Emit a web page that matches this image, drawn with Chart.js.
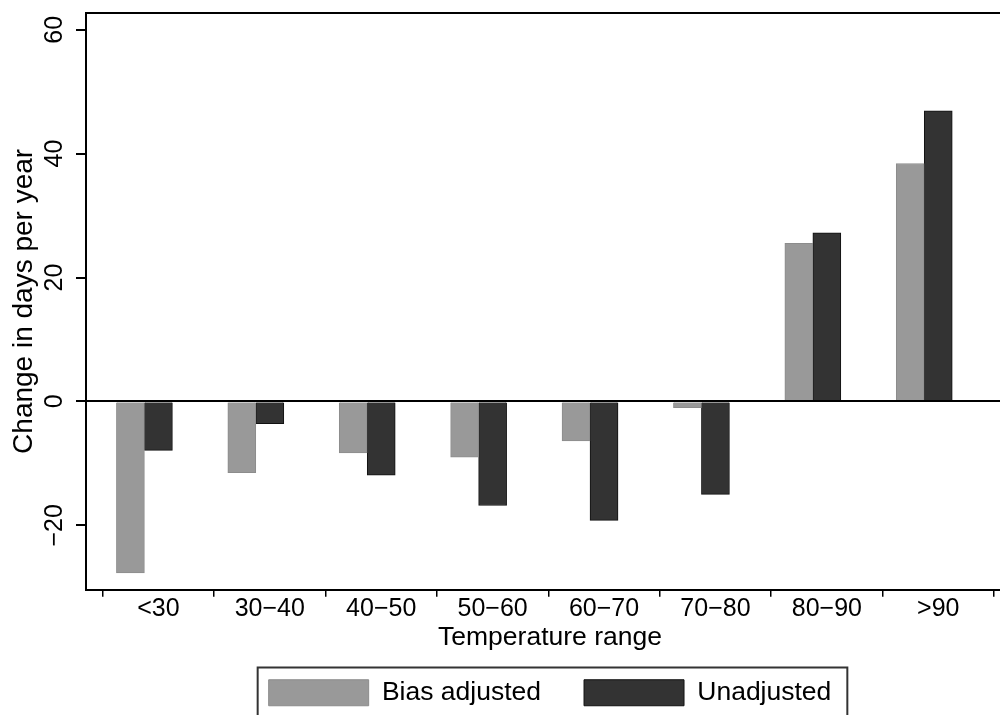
<!DOCTYPE html>
<html>
<head>
<meta charset="utf-8">
<script src="https://cdn.jsdelivr.net/npm/chart.js@4/dist/chart.umd.min.js"></script>
<style>
  html, body { margin: 0; padding: 0; overflow: hidden; background: #fff; width: 1000px; height: 715px; }
  #wrap { width: 1100px; height: 720px; }
</style>
</head>
<body>
<div id="wrap"><canvas id="chart" width="1100" height="720"></canvas></div>
<script>
// Change in days per year, by temperature range
const categories = ['<30', '30−40', '40−50', '50−60', '60−70', '70−80', '80−90', '>90'];
const biasAdjusted = [-27.7, -11.5, -8.3, -9.0, -6.4, -1.0, 25.5, 38.4];
const unadjusted = [-7.9, -3.6, -11.9, -16.8, -19.2, -15.0, 27.2, 46.9];
const yTicks = [-20, 0, 20, 40, 60];
const yRange = { min: -30.4, max: 62.7 };
const xRange = { min: -0.65, max: 7.68 };

const FONT = '"Liberation Sans", Arial, Helvetica, sans-serif';
const withMinus = v => (v < 0 ? '\u2212' + Math.abs(v) : String(v));

// tick marks sit on the boundaries between categories, labels at the centres
const xTickValues = [];
for (let i = 0; i <= categories.length * 2; i++) xTickValues.push(i / 2 - 0.5);

// frame around the legend entries
const legendFrame = {
  id: 'legendFrame',
  afterDraw(chart) {
    const lg = chart.legend;
    if (!lg || !lg.legendHitBoxes || !lg.legendHitBoxes.length) return;
    const boxes = lg.legendHitBoxes;
    const left = Math.min(...boxes.map(b => b.left)) - 11;
    const right = Math.max(...boxes.map(b => b.left + b.width)) + 16;
    const top = boxes[0].top - 12;
    const bottom = boxes[0].top + boxes[0].height + 12;
    const ctx = chart.ctx;
    ctx.save();
    ctx.strokeStyle = '#333';
    ctx.lineWidth = 2;
    ctx.strokeRect(left, top, right - left, bottom - top);
    ctx.restore();
  }
};

new Chart(document.getElementById('chart'), {
  type: 'bar',
  data: {
    labels: categories.map((_, i) => i),
    datasets: [
      { label: 'Bias adjusted', data: biasAdjusted, backgroundColor: '#999999', borderColor: '#8c8c8c', borderWidth: 1 },
      { label: 'Unadjusted', data: unadjusted, backgroundColor: '#333333', borderColor: '#111111', borderWidth: 1 },
      // empty third slot, leaves the gap to the right of each pair
      { label: '', data: categories.map(() => null), backgroundColor: 'rgba(0,0,0,0)' }
    ]
  },
  options: {
    responsive: false,
    animation: false,
    layout: { padding: { left: 0, right: 86, top: 13, bottom: 4 } },
    datasets: { bar: { barThickness: 28, borderSkipped: 'start' } },
    plugins: {
      legend: {
        position: 'bottom',
        fullSize: false,
        labels: {
          boxWidth: 100,
          boxHeight: 26,
          padding: 43,
          color: '#000',
          font: { family: FONT, size: 26.5 },
          filter: item => item.datasetIndex < 2
        }
      },
      tooltip: { enabled: false }
    },
    scales: {
      x: {
        type: 'linear',
        min: xRange.min,
        max: xRange.max,
        offset: false,
        afterBuildTicks: s => { s.ticks = xTickValues.map(v => ({ value: v })); },
        ticks: {
          autoSkip: false, maxRotation: 0, minRotation: 0, padding: 0, color: '#000',
          font: { family: FONT, size: 25, lineHeight: 1 },
          callback: v => (Number.isInteger(v) ? categories[v] : '')
        },
        grid: {
          display: true, drawOnChartArea: false, offset: false, tickLength: 7, lineWidth: 1.5,
          tickColor: ctx => (ctx.tick && Number.isInteger(ctx.tick.value) ? 'rgba(0,0,0,0)' : '#000')
        },
        border: { display: true, color: '#000', width: 2 },
        title: {
          display: true, text: 'Temperature range', color: '#000',
          font: { family: FONT, size: 26.5 }, padding: { top: 0, bottom: -17 }
        }
      },
      xTop: {
        type: 'linear',
        position: 'top',
        min: xRange.min,
        max: xRange.max,
        ticks: { display: false },
        grid: { display: false, drawTicks: false },
        border: { display: true, color: '#000', width: 2 }
      },
      y: {
        min: yRange.min,
        max: yRange.max,
        afterBuildTicks: s => { s.ticks = yTicks.map(v => ({ value: v })); },
        ticks: {
          minRotation: 90, maxRotation: 90, crossAlign: 'center', padding: 0, color: '#000',
          font: { family: FONT, size: 25, lineHeight: 1 },
          callback: v => withMinus(v)
        },
        grid: {
          z: 1, tickLength: 10, lineWidth: 2, tickColor: '#000',
          color: ctx => (ctx.tick && ctx.tick.value === 0 ? '#000' : 'rgba(0,0,0,0)')
        },
        border: { display: true, color: '#000', width: 2, z: 1 },
        title: {
          display: true, text: 'Change in days per year', color: '#000',
          font: { family: FONT, size: 28 }, padding: { top: 7.8, bottom: 9.6 }
        }
      }
    }
  },
  plugins: [legendFrame]
});
</script>
</body>
</html>
